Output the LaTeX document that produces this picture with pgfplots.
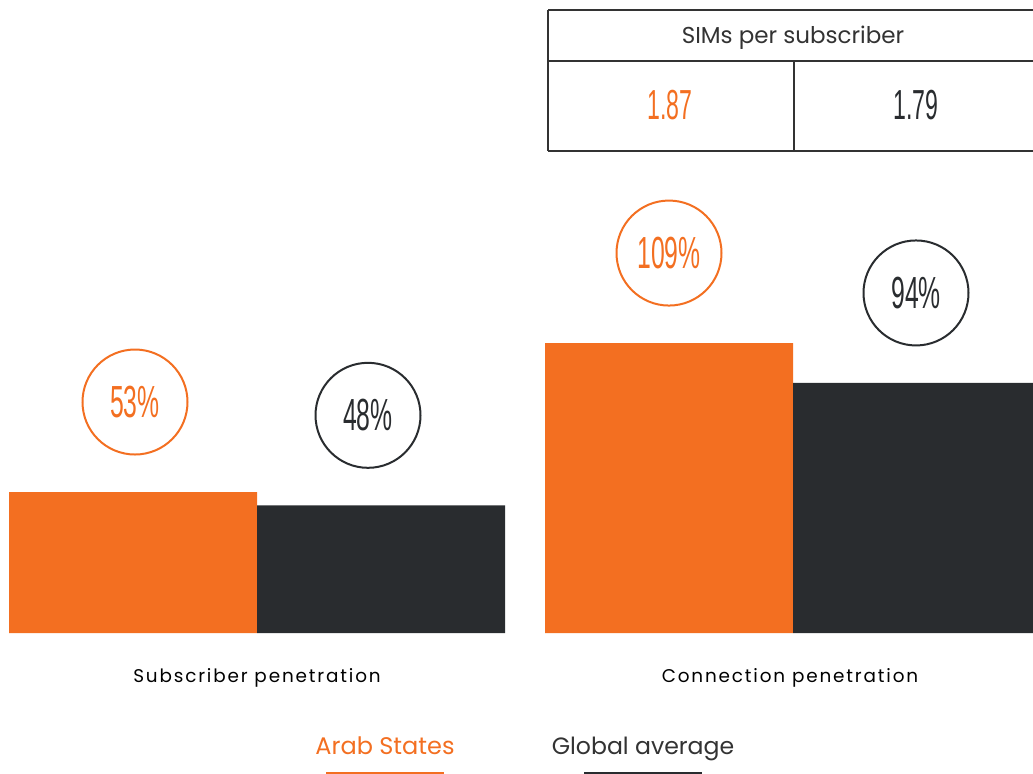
\documentclass[border=0pt]{standalone}
\usepackage{pgfplots}
\pgfplotsset{compat=1.18}
\usepackage{fontspec}
\setmainfont{Poppins}
\newfontfamily\condfont[FakeStretch=0.55]{Liberation Sans}
\newfontfamily\spacedfont[LetterSpace=10]{Poppins}
\definecolor{arab}{HTML}{F36F21}
\definecolor{glob}{HTML}{292C2F}
\definecolor{txt}{HTML}{333333}

% x: bar centre (px), y: value, dx: label offset (pt)
\pgfplotstableread{
x   y    dx
133 53   1
669 109  0
}\arabdata
\pgfplotstableread{
x   y    dx
381 48   -6.5
917 94   -0.5
}\globdata

% 1 px of the reference = 0.5pt; y value = (633 - px)/2.66
\begin{document}
\begin{tikzpicture}
\begin{axis}[
    width=516.5pt, height=387pt,
    scale only axis,
    hide axis,
    xmin=0, xmax=1033,
    ymin=-53.0, ymax=237.97,
    ybar, bar shift=0pt, bar width=248,
    /pgf/number format/assume math mode=true,
    visualization depends on={\thisrow{dx} \as \dx},
    nodes near coords={\pgfmathprintnumber{\pgfplotspointmeta}\%},
    every node near coord/.append style={
        circle, inner sep=0pt, minimum size=52.5pt, line width=1pt,
        anchor=center, yshift=45pt, xshift=\dx pt,
        font=\condfont\fontsize{22.5}{22.5}\selectfont},
]
\path (rel axis cs:0,0) rectangle (rel axis cs:1,1);

\addplot[fill=arab, draw=none,
    every node near coord/.append style={draw=arab, text=arab}]
    table[x=x, y=y] {\arabdata};
\addplot[fill=glob, draw=none,
    every node near coord/.append style={draw=glob, text=glob}]
    table[x=x, y=y] {\globdata};

% SIMs table
\draw[line width=0.7pt, draw=txt]
    (axis cs:548,{(633-10)/2.66}) -- (axis cs:1033,{(633-10)/2.66})
    (axis cs:548,{(633-61)/2.66}) -- (axis cs:1033,{(633-61)/2.66})
    (axis cs:548,{(633-151)/2.66}) -- (axis cs:1033,{(633-151)/2.66})
    (axis cs:548,{(633-10)/2.66}) -- (axis cs:548,{(633-151)/2.66})
    (axis cs:794,{(633-61)/2.66}) -- (axis cs:794,{(633-151)/2.66});
\node[anchor=base, text=txt, font=\fontsize{11.5}{12}\selectfont]
    at (axis cs:793,{(633-44)/2.66}) {SIMs per subscriber};
\node[anchor=base, text=arab, font=\condfont\fontsize{21}{21}\selectfont]
    at (axis cs:670,{(633-120)/2.66}) {1.87};
\node[anchor=base, text=glob, font=\condfont\fontsize{21}{21}\selectfont]
    at (axis cs:916,{(633-120)/2.66}) {1.79};

% category labels
\node[anchor=base, text=black, font=\spacedfont\fontsize{9.2}{10}\selectfont]
    at (axis cs:257,{(633-682)/2.66}) {Subscriber penetration};
\node[anchor=base, text=black, font=\spacedfont\fontsize{9.2}{10}\selectfont]
    at (axis cs:790,{(633-682)/2.66}) {Connection penetration};

% legend
\node[anchor=base, text=arab, font=\fontsize{12}{12}\selectfont]
    at (axis cs:385,{(633-754)/2.66}) {Arab States};
\node[anchor=base, text=txt, font=\fontsize{11.8}{12}\selectfont]
    at (axis cs:643,{(633-754)/2.66}) {Global average};
\draw[arab, line width=1pt] (axis cs:326,{(633-773)/2.66}) -- (axis cs:444,{(633-773)/2.66});
\draw[glob, line width=1pt] (axis cs:584,{(633-773)/2.66}) -- (axis cs:702,{(633-773)/2.66});
\end{axis}
\end{tikzpicture}
\end{document}
